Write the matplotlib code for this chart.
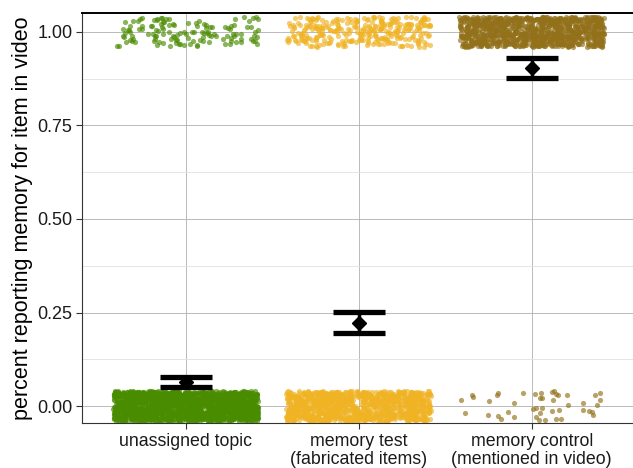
import numpy as np
import matplotlib.pyplot as plt

plt.rcParams['font.family'] = ['Liberation Sans', 'DejaVu Sans']

# categories and counts of responses (0 = no memory, 1 = reported memory)
categories = ["unassigned topic", "memory test\n(fabricated items)", "memory control\n(mentioned in video)"]
n_zero = [1800, 1050, 45]
n_one = [130, 300, 1000]
colors = ["#4a8c00", "#f0b323", "#93711a"]

# summary: mean and interval
means = [0.065, 0.223, 0.903]
ci_low = [0.050, 0.196, 0.876]
ci_high = [0.079, 0.251, 0.929]

rng = np.random.default_rng(7)
jit_w, jit_h = 0.42, 0.04

fig = plt.figure(figsize=(6.33, 4.68), dpi=100)
ax = fig.add_axes([82 / 633, 45 / 468, 1 - 82 / 633 + 0.004, (423 - 13) / 468])

for i, cat in enumerate(categories):
    x0 = i + 1
    for val, n in [(0, n_zero[i]), (1, n_one[i])]:
        xs = x0 + rng.uniform(-jit_w, jit_w, n)
        ys = val + rng.uniform(-jit_h, jit_h, n)
        ax.scatter(xs, ys, s=14, color=colors[i], alpha=0.65, linewidths=0, zorder=2)

xpos = np.arange(1, len(categories) + 1)
ax.errorbar(xpos, means, yerr=[np.array(means) - np.array(ci_low), np.array(ci_high) - np.array(means)],
            fmt='D', color='black', ms=7, elinewidth=2.5, capsize=19, capthick=3.8, zorder=4)

ax.set_xlim(0.4, 3.6)
ax.set_ylim(-0.045, 1.05)
ax.set_xticks(xpos)
ax.set_xticklabels(categories, fontsize=12.8, color='#1a1a1a', linespacing=1.1)
ax.set_yticks([0, 0.25, 0.5, 0.75, 1.0])
ax.set_yticklabels(["0.00", "0.25", "0.50", "0.75", "1.00"], fontsize=13, color='#1a1a1a')
ax.set_yticks([0.125, 0.375, 0.625, 0.875], minor=True)
ax.tick_params(which='minor', length=0)
ax.tick_params(which='major', length=4, color='#333333', pad=3)
ax.grid(True, which='major', color='#b0b0b0', linewidth=0.6)
ax.grid(True, which='minor', axis='y', color='#e0e0e0', linewidth=0.6)
ax.set_axisbelow(True)
ax.set_ylabel("percent reporting memory for item in video", fontsize=15.5, labelpad=3)

for side in ['left', 'bottom']:
    ax.spines[side].set_color('#333333')
ax.spines['top'].set_color('black')
ax.spines['top'].set_linewidth(1.4)
ax.spines['right'].set_color('black')

fig.savefig("out.png", dpi=100)
